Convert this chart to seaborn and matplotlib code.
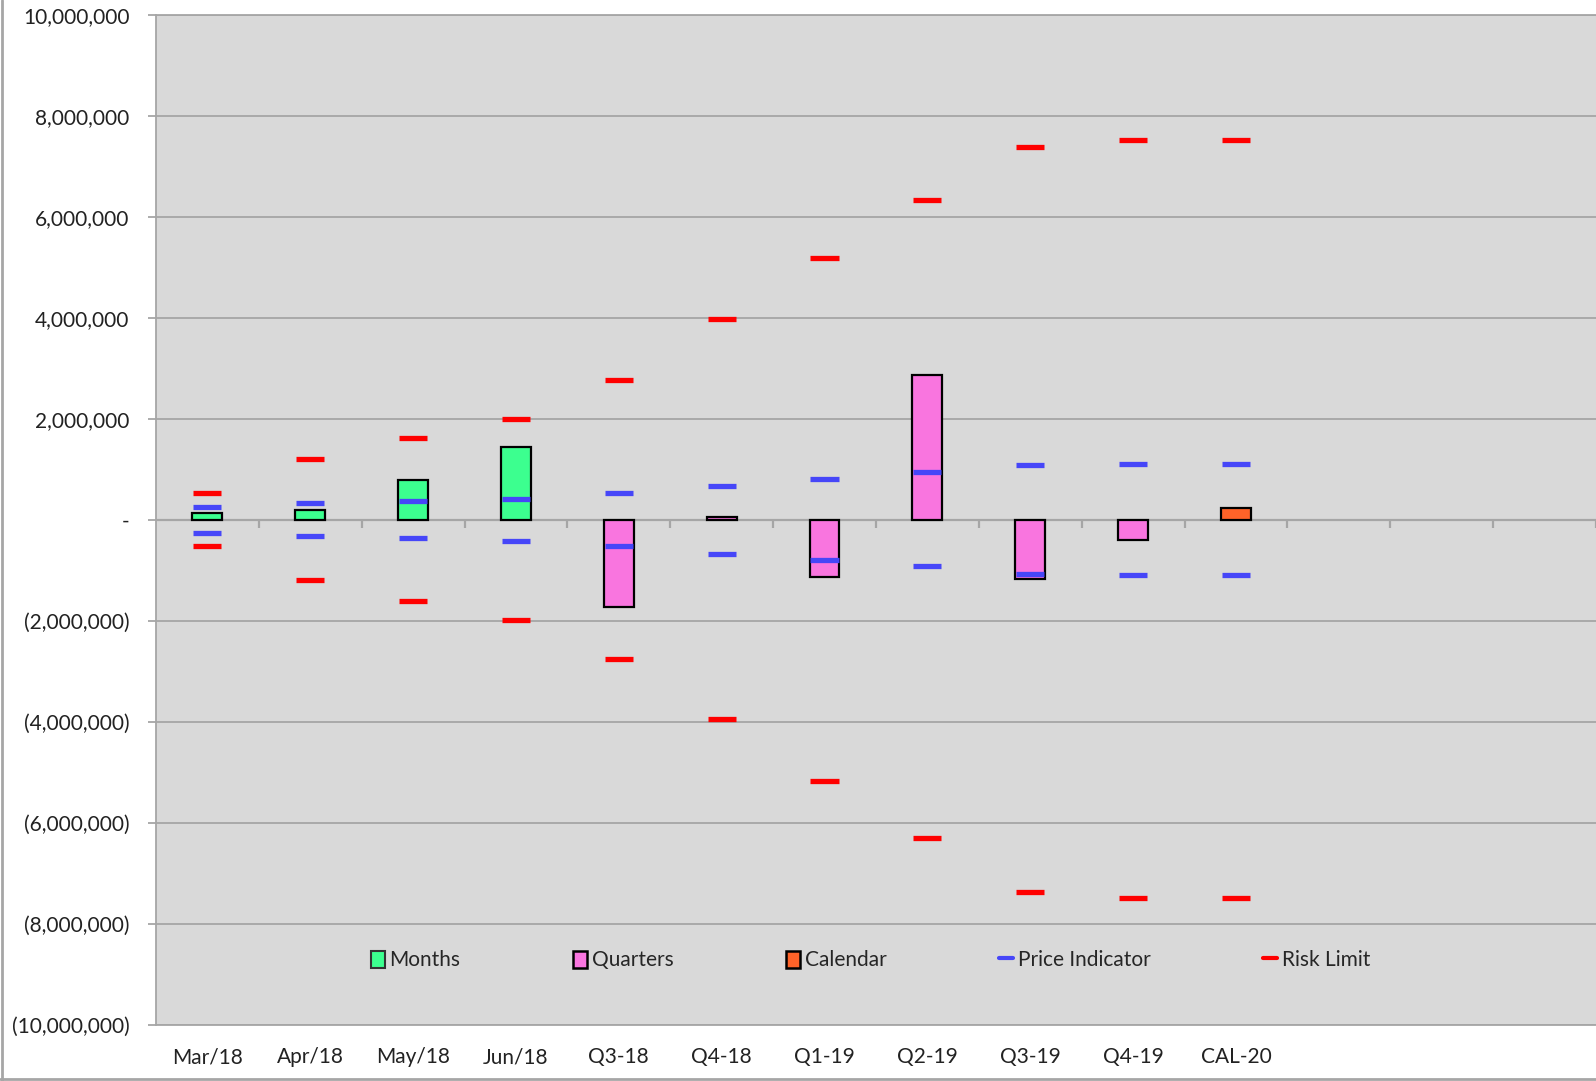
import pandas as pd
import matplotlib.pyplot as plt
import matplotlib.ticker as mticker
from matplotlib.patches import Patch
from matplotlib.lines import Line2D
import seaborn as sns
import numpy as np

# --- Data ---
PERIODS = ['Mar/18', 'Apr/18', 'May/18', 'Jun/18', 'Q3-18', 'Q4-18',
           'Q1-19', 'Q2-19', 'Q3-19', 'Q4-19', 'CAL-20']
BAR_TYPE = ['Months', 'Months', 'Months', 'Months', 'Quarters', 'Quarters',
            'Quarters', 'Quarters', 'Quarters', 'Quarters', 'Calendar']
POSITION = [130000, 200000, 790000, 1440000, -1730000, 60000,
            -1130000, 2870000, -1160000, -400000, 240000]
PRICE_HI = [260000, 330000, 376000, 420000, 540000, 670000,
            820000, 960000, 1080000, 1100000, 1100000]
PRICE_LO = [-250000, -320000, -360000, -410000, -520000, -670000,
            -790000, -920000, -1060000, -1080000, -1080000]
RISK_HI = [540000, 1210000, 1620000, 2000000, 2780000, 3990000,
           5180000, 6330000, 7380000, 7520000, 7520000]
RISK_LO = [-520000, -1190000, -1600000, -1980000, -2760000, -3950000,
           -5160000, -6290000, -7360000, -7480000, -7480000]
N_SLOTS = 14  # 3 empty slots on the right

COLORS = {'Months': '#3CFF8F', 'Quarters': '#F975DF', 'Calendar': '#FF6329'}
PRICE_COLOR = '#4646F8'
RISK_COLOR = '#FF0000'
GRID = '#A6A6A6'
FS = 15
# -------------

def fmt_money(v, pos):
    if abs(v) < 1:
        return '-'
    if v < 0:
        return f'({abs(v):,.0f})'
    return f'{v:,.0f}'

sns.set_theme(style='white')
plt.rcParams['font.family'] = ['Lato', 'DejaVu Sans']

fig = plt.figure(figsize=(15.96, 10.81), dpi=100)
ax = fig.add_axes([0.0977, 0.0518, 0.9023, 0.9343])
ax.set_facecolor('#D9D9D9')

bars = pd.DataFrame({'Period': PERIODS, 'Type': BAR_TYPE, 'Value': POSITION})
sns.barplot(data=bars, x='Period', y='Value', hue='Type', palette=COLORS,
            dodge=False, width=0.29, saturation=1, edgecolor='black',
            linewidth=1.6, legend=False, ax=ax, zorder=3)

# dash markers for price indicator and risk limit
x = np.arange(len(PERIODS))
dashes = pd.DataFrame({
    'x': np.concatenate([x, x, x, x]),
    'y': PRICE_HI + PRICE_LO + RISK_HI + RISK_LO,
    'kind': ['Price'] * 22 + ['Risk'] * 22,
})
sns.scatterplot(data=dashes, x='x', y='y', hue='kind', marker='_', s=410,
                linewidth=3.8, palette={'Price': PRICE_COLOR, 'Risk': RISK_COLOR},
                legend=False, ax=ax, zorder=4)

ax.set_xlim(-0.5, N_SLOTS - 0.5)
ax.set_ylim(-10_000_000, 10_000_000)
ax.yaxis.set_major_locator(mticker.MultipleLocator(2_000_000))
ax.yaxis.set_major_formatter(mticker.FuncFormatter(fmt_money))
ax.grid(axis='y', color=GRID, linewidth=1.3, zorder=0)
ax.set_axisbelow(True)

# category axis crosses at zero, with separator ticks between slots
ax.axhline(0, color=GRID, linewidth=1.6, zorder=2)
ax.vlines(np.arange(0.5, N_SLOTS, 1), -160000, 0, color=GRID, linewidth=1.6, zorder=2)

ax.set_xticks(x)
ax.set_xticklabels(PERIODS)
ax.set_xlabel('')
ax.set_ylabel('')
ax.tick_params(axis='x', length=0, pad=16, labelsize=FS, labelcolor='#222222')
ax.tick_params(axis='y', left=True, length=6, width=1.3, color=GRID, pad=13,
               labelsize=FS, labelcolor='#222222')
for side in ['left', 'bottom', 'top']:
    ax.spines[side].set_color(GRID)
    ax.spines[side].set_linewidth(1.3)
ax.spines['right'].set_visible(False)

handles = [
    Patch(facecolor=COLORS['Months'], edgecolor='#333333', linewidth=1.5, label='Months'),
    Patch(facecolor=COLORS['Quarters'], edgecolor='black', linewidth=1.8, label='Quarters'),
    Patch(facecolor=COLORS['Calendar'], edgecolor='black', linewidth=1.8, label='Calendar'),
    Line2D([], [], color=PRICE_COLOR, linewidth=3, label='Price Indicator'),
    Line2D([], [], color=RISK_COLOR, linewidth=3, label='Risk Limit'),
]
ax.legend(handles=handles, loc='center', bbox_to_anchor=(0.496, 0.064), ncol=5,
          frameon=False, fontsize=FS, handlelength=0.7, handleheight=0.9,
          handletextpad=0.2, columnspacing=5.4)

# outer chart border (left and bottom)
fig.add_artist(Line2D([0.0015, 0.0015], [0, 1], color=GRID, linewidth=2))
fig.add_artist(Line2D([0, 1], [0.002, 0.002], color=GRID, linewidth=2))

plt.savefig('out.png', dpi=100)
